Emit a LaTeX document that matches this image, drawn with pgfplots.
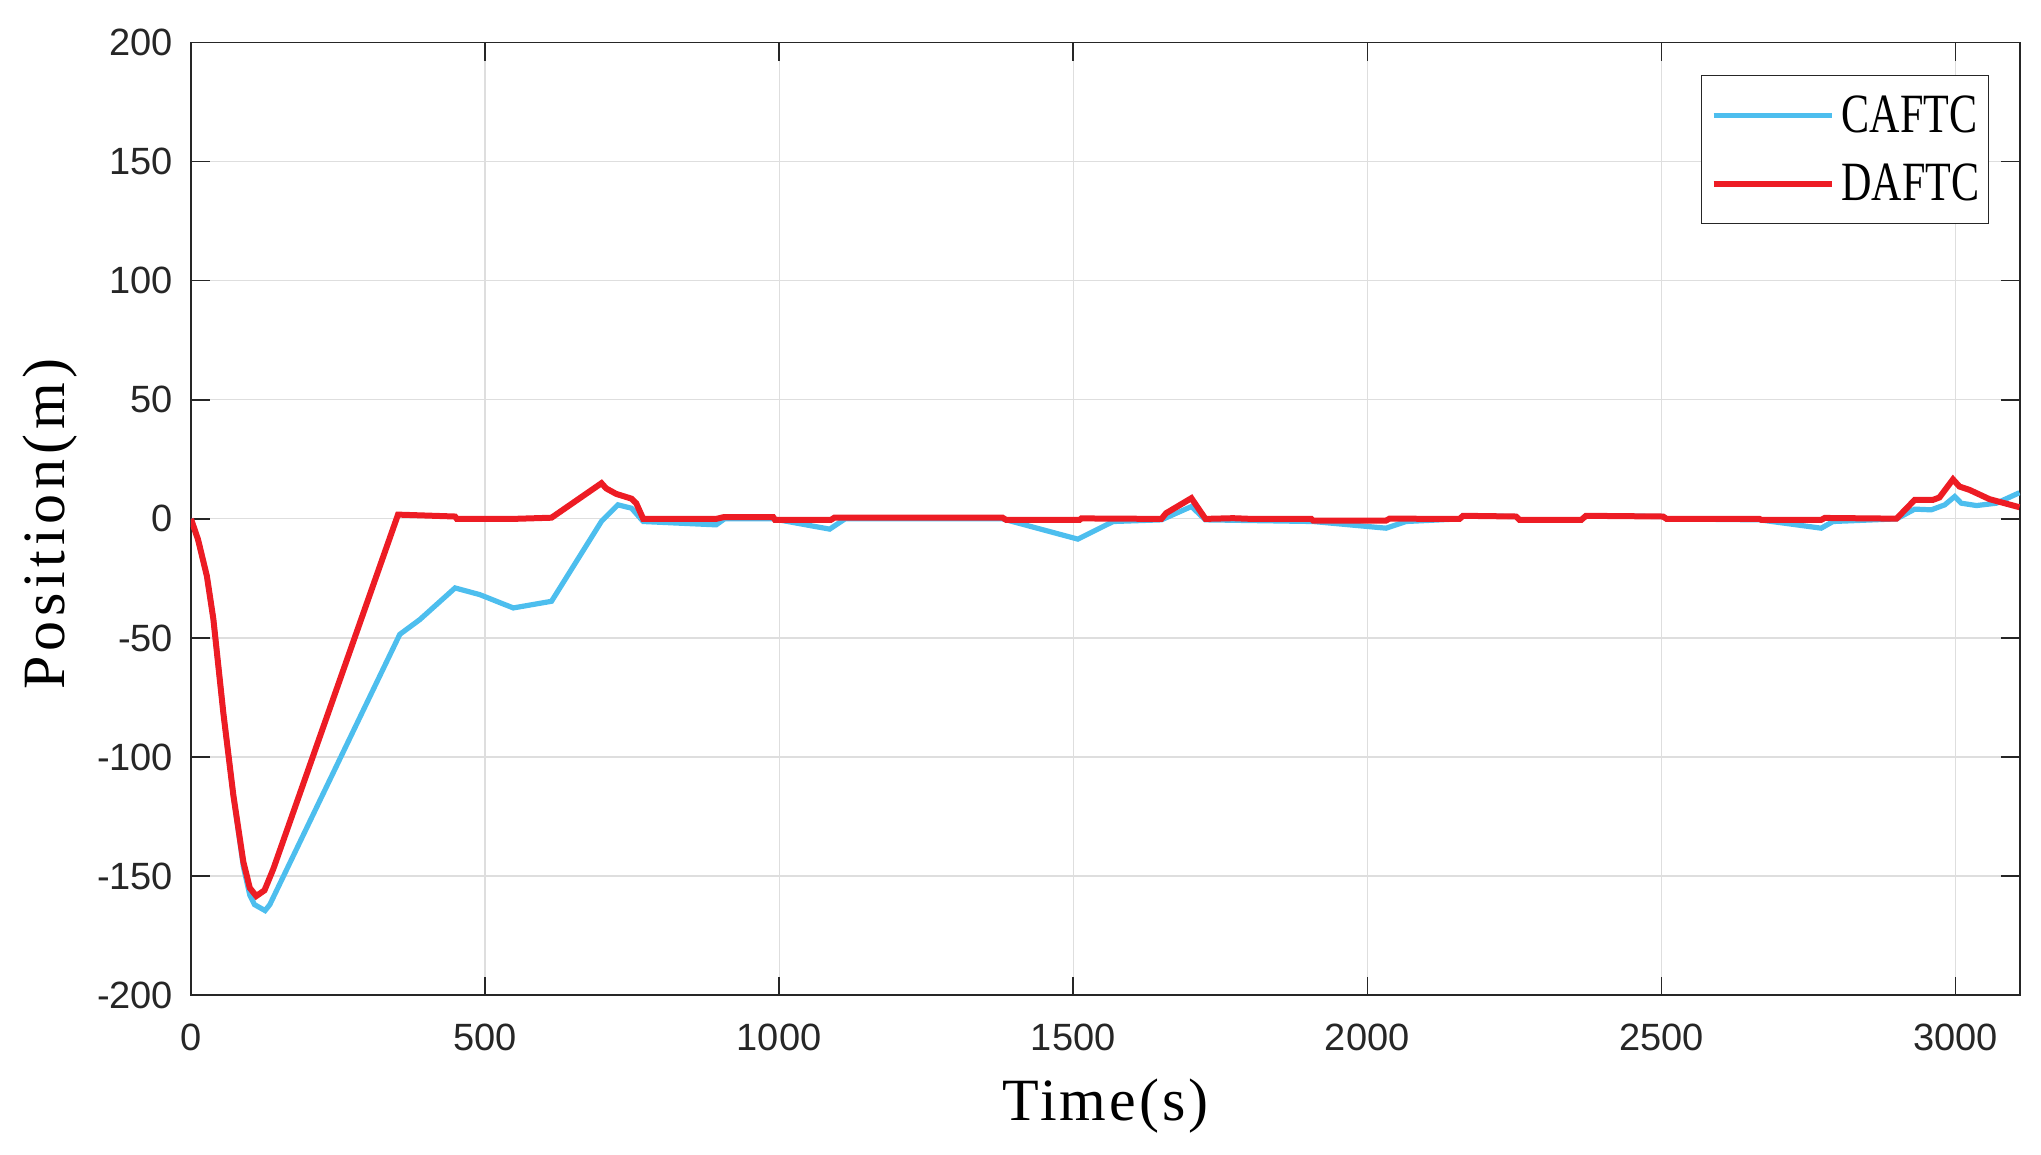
\documentclass[border=0pt]{standalone}
\usepackage{fontspec}
\setmainfont{Liberation Sans}
\newfontfamily\xlabfont[LetterSpace=5]{Liberation Serif}
\newfontfamily\ylabfont[LetterSpace=8]{Liberation Serif}
\newfontfamily\legfont[FakeStretch=0.76]{Liberation Serif}
\usepackage{pgfplots}
\pgfplotsset{compat=1.18}
\definecolor{cblue}{RGB}{77,190,238}
\definecolor{dred}{RGB}{237,28,36}
\definecolor{tickgray}{RGB}{38,38,38}

\begin{document}
\begin{tikzpicture}
\begin{axis}[
  scale only axis, width=914.5pt, height=476.2pt,
  xmin=0, xmax=3110, ymin=-200, ymax=200,
  xtick={0,500,...,3000}, ytick={-200,-150,...,200},
  scaled ticks=false,
  /pgf/number format/1000 sep={},
  /pgf/number format/assume math mode=true,
  grid=major, major grid style={color=black!13, line width=0.6pt},
  axis line style={color=tickgray, line width=0.7pt},
  tick style={color=tickgray, line width=0.7pt},
  major tick length=9.3pt, tick align=inside,
  ticklabel style={font=\fontsize{19}{22}\selectfont, text=tickgray},
  yticklabel style={xshift=-5.4pt},
  xticklabel style={yshift=-10.9pt},
  xlabel={Time(s)}, ylabel={Position(m)},
  every axis x label/.style={at={(axis description cs:0.5,0)}, anchor=base,
    yshift=-62.5pt, font=\xlabfont\fontsize{30}{36}\selectfont},
  every axis y label/.style={at={(axis description cs:-0.0771,0.4948)}, anchor=center,
    rotate=90, font=\ylabfont\fontsize{30}{36}\selectfont},
  legend style={at={(axis description cs:0.9832,0.9664)}, anchor=north east,
    draw=tickgray, line width=0.7pt, fill=white,
    font=\legfont\fontsize{27.7}{33}\selectfont,
    nodes={inner sep=0pt}, inner xsep=4.5pt, inner ysep=10pt,
    row sep=14.5pt, column sep=3.5pt, cells={anchor=west}},
  legend image code/.code={\draw[#1] (0pt,0pt) -- (59pt,0pt);},
]
\addplot[cblue, line width=2.6pt] coordinates {
  (0,0) (12,-8.7) (27,-24) (38,-42) (55,-81.5) (72,-116) (89,-146) (100,-158)
  (108,-162) (126,-164.5) (134,-162) (355,-48.5) (389,-42.3) (449,-29) (491,-31.8)
  (548,-37.4) (613,-34.6) (698,-1) (726,5.9) (749,4.5) (769,-1.1) (893,-2.5)
  (907,0) (990,0) (1086,-4.3) (1112,0) (1380,0) (1508,-8.5) (1568,-1.1)
  (1650,-0.4) (1701,5.2) (1725,-0.4) (1908,-1.1) (2032,-3.9) (2066,-1.1)
  (2157,0) (2163,1.3) (2253,1.0) (2259,-0.4) (2364,-0.4) (2372,1.3) (2503,1.0)
  (2509,0) (2667,-0.4) (2772,-3.9) (2792,-1.1) (2900,0) (2931,4.1) (2959,3.8)
  (2982,5.9) (2999,9.4) (3010,6.6) (3036,5.6) (3070,6.6) (3109,11)
};
\addlegendentry{CAFTC}
\addplot[dred, line width=3pt] coordinates {
  (0,0) (12,-8.7) (27,-24) (38,-42) (55,-81.5) (72,-116) (89,-144) (100,-155)
  (111,-158.4) (125,-156) (140,-147) (352,1.8) (449,1) (452,0) (548,0) (613,0.5)
  (698,15) (706,12.8) (723,10.5) (749,8.5) (757,6.6) (769,0) (893,0) (905,0.7)
  (990,0.7) (993,-0.4) (1088,-0.4) (1094,0.5) (1380,0.5) (1386,-0.4) (1511,-0.4)
  (1514,0.2) (1650,0) (1658,2.4) (1701,8.7) (1725,0) (1772,0.3) (1803,0)
  (1905,0) (1908,-0.7) (2032,-0.7) (2038,0.1) (2157,0) (2163,1.3) (2253,1.0)
  (2259,-0.4) (2364,-0.4) (2372,1.3) (2503,1.0) (2509,0) (2667,0) (2670,-0.4)
  (2772,-0.4) (2778,0.4) (2900,0.1) (2931,8) (2962,8) (2973,9) (2996,16.6)
  (3007,13.6) (3024,12.2) (3058,8.3) (3109,4.9)
};
\addlegendentry{DAFTC}
\end{axis}
\pgfresetboundingbox
\path ([xshift=-95.5pt,yshift=-79.5pt]current axis.south west) rectangle ([xshift=10.5pt,yshift=21.35pt]current axis.north east);
\end{tikzpicture}
\end{document}
